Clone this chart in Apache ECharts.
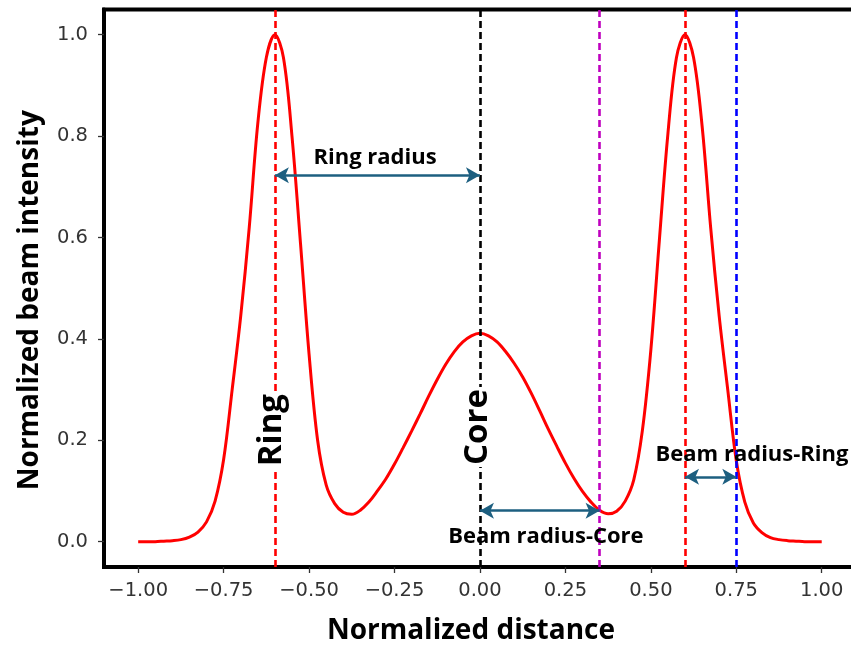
<!DOCTYPE html>
<html>
<head>
<meta charset="utf-8">
<script src="https://cdn.jsdelivr.net/npm/echarts@6/dist/echarts.min.js"></script>
<style>html,body{margin:0;padding:0;background:#fff}#c{width:851px;height:646px}</style>
</head>
<body>
<div id="c"></div>
<script>
// ---- data ----
const xValues = [
  -1.000,-0.975,-0.950,-0.925,-0.900,-0.875,-0.850,-0.825,-0.800,-0.775,
  -0.750,-0.725,-0.700,-0.675,-0.650,-0.625,-0.600,-0.575,-0.550,-0.525,
  -0.500,-0.475,-0.450,-0.425,-0.400,-0.375,-0.350,-0.325,-0.300,-0.275,
  -0.250,-0.225,-0.200,-0.175,-0.150,-0.125,-0.100,-0.075,-0.050,-0.025,
   0.000, 0.025, 0.050, 0.075, 0.100, 0.125, 0.150, 0.175, 0.200, 0.225,
   0.250, 0.275, 0.300, 0.325, 0.350, 0.375, 0.400, 0.425, 0.450, 0.475,
   0.500, 0.525, 0.550, 0.575, 0.600, 0.625, 0.650, 0.675, 0.700, 0.725,
   0.750, 0.775, 0.800, 0.825, 0.850, 0.875, 0.900, 0.925, 0.950, 0.975, 1.000
];
const intensity = [
  0.000,0.000,0.000,0.001,0.002,0.004,0.009,0.019,0.039,0.080,
  0.162,0.300,0.445,0.620,0.825,0.955,1.000,0.955,0.800,0.588,
  0.370,0.200,0.112,0.075,0.058,0.054,0.062,0.078,0.100,0.124,
  0.153,0.185,0.218,0.252,0.287,0.320,0.350,0.375,0.394,0.406,
  0.411,0.406,0.394,0.375,0.352,0.325,0.293,0.258,0.222,0.188,
  0.155,0.125,0.099,0.078,0.062,0.055,0.060,0.080,0.122,0.218,
  0.378,0.595,0.805,0.955,1.000,0.955,0.820,0.620,0.445,0.300,
  0.160,0.078,0.037,0.018,0.008,0.004,0.002,0.001,0.000,0.000,0.000
];
const xTicks = [-1.00,-0.75,-0.50,-0.25,0.00,0.25,0.50,0.75,1.00];
const yTicks = [0.0,0.2,0.4,0.6,0.8,1.0];

// marker lines (x positions)
const ringPos = [-0.6, 0.6];
const corePos = 0.0;
const coreBeamEdge = 0.35;
const ringBeamEdge = 0.75;

// arrows: [x1, x2, y]
const ringRadiusArrow = [-0.6, 0.0, 0.723];
const coreBeamArrow = [0.0, 0.35, 0.061];
const ringBeamArrow = [0.6, 0.75, 0.128];

// text annotations: [x, y, text]
const annoTexts = [
  [-0.307, 0.757, 'Ring radius'],
  [0.193, 0.009, 'Beam radius-Core'],
  [0.796, 0.171, 'Beam radius-Ring']
];
const vertTexts = [
  [-0.609, 0.22, 'Ring'],
  [-0.006, 0.226, 'Core']
];

const curve = xValues.map((x, i) => [x, intensity[i]]);
const minus = s => s.replace('-', '\u2212');

const chart = echarts.init(document.getElementById('c'));
const arrowColor = '#1d5f80';
function vline(x, color) {
  return { xAxis: x, lineStyle: { color: color, type: [7, 4], width: 2.6 } };
}
function arrow(a) {
  return [{ coord: [a[0], a[2]] }, { coord: [a[1], a[2]] }];
}
chart.setOption({
  animation: false,
  grid: {
    left: 104, top: 9.4, right: -4.9, bottom: 79,
    show: true, borderColor: '#000', borderWidth: 4,
    containLabel: false, outerBoundsMode: 'none'
  },
  xAxis: {
    type: 'value', min: -1.1, max: 1.1,
    name: 'Normalized distance', nameLocation: 'middle', nameGap: 50,
    nameTextStyle: { fontFamily: 'Open Sans', fontWeight: 'bold', fontSize: 28, color: '#000',
      padding: [0, 18, 0, 0] },
    axisLine: { show: true, onZero: false, lineStyle: { color: '#000', width: 4 } },
    axisTick: { show: true, customValues: xTicks, length: 6, lineStyle: { color: '#333', width: 1.3 } },
    axisLabel: { customValues: xTicks, margin: 14, fontFamily: 'DejaVu Sans', fontSize: 19.5, color: '#333',
      formatter: v => minus(v.toFixed(2)) },
    splitLine: { show: false }
  },
  yAxis: {
    type: 'value', min: -0.05, max: 1.05,
    name: 'Normalized beam intensity', nameLocation: 'middle', nameGap: 60,
    nameTextStyle: { fontFamily: 'Open Sans', fontWeight: 'bold', fontSize: 28, color: '#000',
      padding: [0, 24, 0, 0] },
    axisLine: { show: true, onZero: false, lineStyle: { color: '#000', width: 4 } },
    axisTick: { show: true, customValues: yTicks, length: 6, lineStyle: { color: '#333', width: 1.3 } },
    axisLabel: { customValues: yTicks, margin: 16, fontFamily: 'DejaVu Sans', fontSize: 19.5, color: '#333',
      formatter: v => v.toFixed(1) },
    splitLine: { show: false }
  },
  series: [
    {
      type: 'line', data: curve, showSymbol: false, smooth: 0.35,
      lineStyle: { color: '#ff0000', width: 3 }, z: 3,
      markLine: {
        silent: true, symbol: ['none', 'none'], label: { show: false },
        data: [
          vline(ringPos[0], '#ff0000'), vline(ringPos[1], '#ff0000'),
          vline(corePos, '#000000'), vline(coreBeamEdge, '#bf00bf'),
          vline(ringBeamEdge, '#0000ff')
        ]
      }
    },
    {
      type: 'line', data: [], z: 4,
      markLine: {
        silent: true, symbol: ['arrow', 'arrow'], symbolSize: [12, 14],
        label: { show: false },
        lineStyle: { color: arrowColor, type: 'solid', width: 2.5 },
        data: [arrow(ringRadiusArrow), arrow(coreBeamArrow), arrow(ringBeamArrow)]
      }
    },
    {
      type: 'scatter', symbolSize: 0, z: 5, itemStyle: { opacity: 1 },
      data: annoTexts.map(t => ({ value: [t[0], t[1]], name: t[2] })),
      label: { show: true, position: 'inside', formatter: p => p.name, opacity: 1,
        fontFamily: 'Open Sans', fontWeight: 'bold', fontSize: 22, color: '#000' }
    },
    {
      type: 'scatter', symbolSize: 0, z: 6, itemStyle: { opacity: 1 },
      data: vertTexts.map(t => ({ value: [t[0], t[1]], name: t[2] })),
      label: { show: true, position: 'inside', rotate: 90, formatter: p => p.name, opacity: 1,
        fontFamily: 'Open Sans', fontWeight: 'bold', fontSize: 33, color: '#000',
        backgroundColor: '#fff', padding: [0, 2] }
    }
  ]
});
</script>
</body>
</html>
